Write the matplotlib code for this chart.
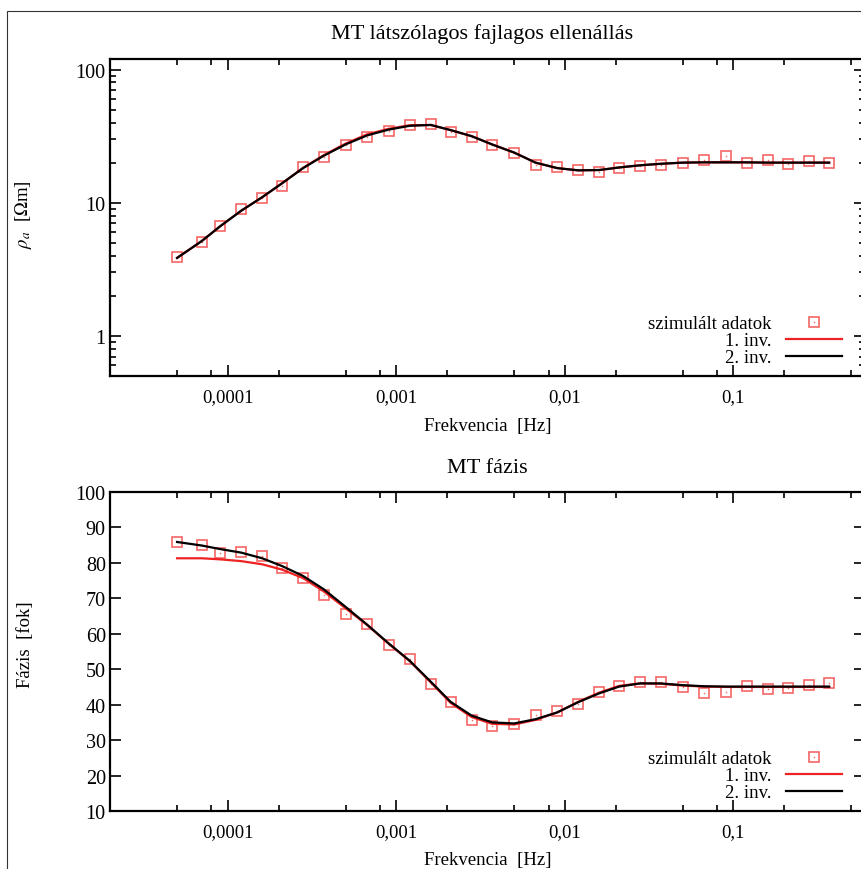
import matplotlib
matplotlib.use("Agg")
import matplotlib.pyplot as plt
from matplotlib.patches import Rectangle
from matplotlib.ticker import FixedLocator, NullFormatter, LogLocator

plt.rcParams["font.family"] = ["Liberation Serif", "DejaVu Serif"]
plt.rcParams["mathtext.fontset"] = "stix"

# Frekvenciák [Hz]
freq = [5.0e-5, 7.0e-5, 9.0e-5, 1.2e-4, 1.6e-4, 2.1e-4, 2.8e-4, 3.7e-4,
        5.0e-4, 6.7e-4, 9.0e-4, 1.2e-3, 1.6e-3, 2.1e-3, 2.8e-3, 3.7e-3,
        5.0e-3, 6.7e-3, 9.0e-3, 1.2e-2, 1.6e-2, 2.1e-2, 2.8e-2, 3.7e-2,
        5.0e-2, 6.7e-2, 9.0e-2, 0.12, 0.16, 0.21, 0.28, 0.37]

# Látszólagos fajlagos ellenállás [Ohm m]
rho_sim = [3.89, 5.04, 6.70, 8.93, 10.8, 13.4, 18.4, 22.0,
           27.3, 31.3, 34.5, 38.1, 39.0, 33.9, 31.3, 27.3,
           23.5, 19.3, 18.5, 17.7, 17.1, 18.1, 18.9, 19.2,
           19.9, 20.9, 22.4, 19.9, 21.1, 19.4, 20.6, 19.8]
rho_inv1 = [3.85, 5.15, 6.65, 8.7, 11.0, 14.0, 18.3, 22.7,
            27.8, 32.6, 35.9, 38.2, 38.3, 35.1, 31.6, 27.4,
            23.8, 20.0, 18.2, 17.5, 17.6, 18.4, 19.1, 19.6,
            20.0, 20.1, 20.1, 20.1, 20.0, 20.0, 20.0, 20.0]
rho_inv2 = [3.85, 5.15, 6.65, 8.7, 11.0, 14.0, 18.2, 22.5,
            27.4, 32.0, 35.4, 37.8, 38.4, 35.1, 31.6, 27.4,
            23.8, 20.0, 18.2, 17.5, 17.6, 18.4, 19.1, 19.6,
            20.0, 20.1, 20.1, 20.1, 20.0, 20.0, 20.0, 20.0]

# Fázis [fok]
phi_sim = [85.8, 85.0, 82.9, 83.0, 82.0, 78.6, 75.6, 70.9,
           65.7, 62.8, 56.8, 52.8, 45.8, 40.7, 35.7, 34.0,
           34.5, 37.1, 38.2, 40.2, 43.5, 45.3, 46.5, 46.3,
           45.1, 43.3, 43.5, 45.3, 44.3, 44.8, 45.6, 46.0]
phi_inv1 = [81.3, 81.3, 81.0, 80.5, 79.6, 78.1, 75.7, 72.0,
            67.2, 62.5, 57.2, 52.3, 46.3, 40.5, 36.5, 34.6,
            34.4, 35.7, 37.8, 40.8, 43.4, 45.3, 46.0, 45.9,
            45.4, 45.1, 45.0, 45.0, 45.0, 45.0, 45.0, 45.0]
phi_inv2 = [85.9, 84.9, 83.9, 82.9, 81.3, 79.1, 76.3, 72.6,
            67.6, 62.6, 57.3, 52.4, 46.5, 40.8, 36.9, 35.0,
            34.7, 35.9, 37.8, 40.7, 43.2, 45.1, 46.0, 46.0,
            45.5, 45.2, 45.1, 45.1, 45.1, 45.1, 45.1, 45.1]

x_ticks = [1e-4, 1e-3, 1e-2, 1e-1]
x_labels = ["0,0001", "0,001", "0,01", "0,1"]

FS = 13.5
W, H = 862, 870
fig = plt.figure(figsize=(W / 100, H / 100), dpi=100)

# külső keret
fig.add_artist(Rectangle((7 / W, -0.01), 1.0, 1 - 12 / H + 0.01, fill=False,
                         edgecolor="#333333", linewidth=0.8,
                         transform=fig.transFigure))

ax1 = fig.add_axes([110 / W, 1 - 377 / H, 755 / W, 317 / H])
ax2 = fig.add_axes([110 / W, 1 - 812 / H, 755 / W, 319 / H])

sq_col = (0.95, 0.2, 0.2, 0.75)


def style_axis(ax):
    ax.set_xscale("log")
    ax.set_xlim(2e-5, 0.604)
    ax.set_xticks(x_ticks)
    ax.set_xticklabels(x_labels)
    ax.xaxis.set_minor_locator(LogLocator(base=10, subs=[2, 5, 8]))
    ax.xaxis.set_minor_formatter(NullFormatter())
    for s in ax.spines.values():
        s.set_linewidth(1.6)
    ax.tick_params(which="both", direction="in", top=True, right=True,
                   width=1.2, color="black")
    ax.tick_params(which="major", length=8)
    ax.tick_params(which="minor", length=4)
    ax.tick_params(axis="x", pad=9, labelsize=FS)
    ax.tick_params(axis="y", pad=3, labelsize=FS + 1)
    ax.set_xlabel("Frekvencia  [Hz]", fontsize=FS)


def draw(ax, y_sim, y1, y2):
    sq, = ax.plot(freq, y_sim, linestyle="none", marker="s", markersize=7.5,
                  markerfacecolor="none", markeredgecolor=sq_col,
                  markeredgewidth=1.2)
    dot, = ax.plot(freq, y_sim, linestyle="none", marker="s", markersize=1,
                   markerfacecolor=sq_col, markeredgecolor="none")
    l1, = ax.plot(freq, y1, color="#ee2222", linewidth=1.6)
    l2, = ax.plot(freq, y2, color="black", linewidth=1.6)
    leg = ax.legend([(sq, dot), l1, l2], ["szimulált adatok", "1. inv.", "2. inv."],
                    loc="lower right", bbox_to_anchor=(0.9695, 0.03),
                    frameon=False, markerfirst=False, fontsize=FS,
                    handlelength=3.0, handletextpad=0.75, labelspacing=0.0,
                    borderpad=0, borderaxespad=0)
    return leg


# felső: látszólagos fajlagos ellenállás
style_axis(ax1)
ax1.set_yscale("log")
ax1.set_ylim(0.5, 120)
ax1.yaxis.set_major_locator(FixedLocator([1, 10, 100]))
ax1.set_yticklabels(["1", "10", "100"])
ax1.yaxis.set_minor_locator(LogLocator(base=10, subs=[2, 3, 4, 5, 6, 7, 8, 9]))
ax1.yaxis.set_minor_formatter(NullFormatter())
draw(ax1, rho_sim, rho_inv1, rho_inv2)
ax1.set_ylabel(r"$\rho_a$  [$\Omega$m]", fontsize=FS)
ax1.yaxis.set_label_coords(-0.1007, 0.511)
ax1.xaxis.set_label_coords(0.5, -0.128)

# alsó: fázis
style_axis(ax2)
ax2.set_ylim(10, 100)
ax2.set_yticks(range(10, 101, 10))
ax2.yaxis.set_minor_locator(FixedLocator([]))
draw(ax2, phi_sim, phi_inv1, phi_inv2)
ax2.set_ylabel("Fázis  [fok]", fontsize=FS)
ax2.yaxis.set_label_coords(-0.1007, 0.523)
ax2.xaxis.set_label_coords(0.5, -0.125)

fig.text(482 / W, 1 - 39 / H, "MT látszólagos fajlagos ellenállás",
         ha="center", va="baseline", fontsize=16)
fig.text(487 / W, 1 - 473 / H, "MT fázis", ha="center", va="baseline",
         fontsize=16)

fig.savefig("out.png", dpi=100)
